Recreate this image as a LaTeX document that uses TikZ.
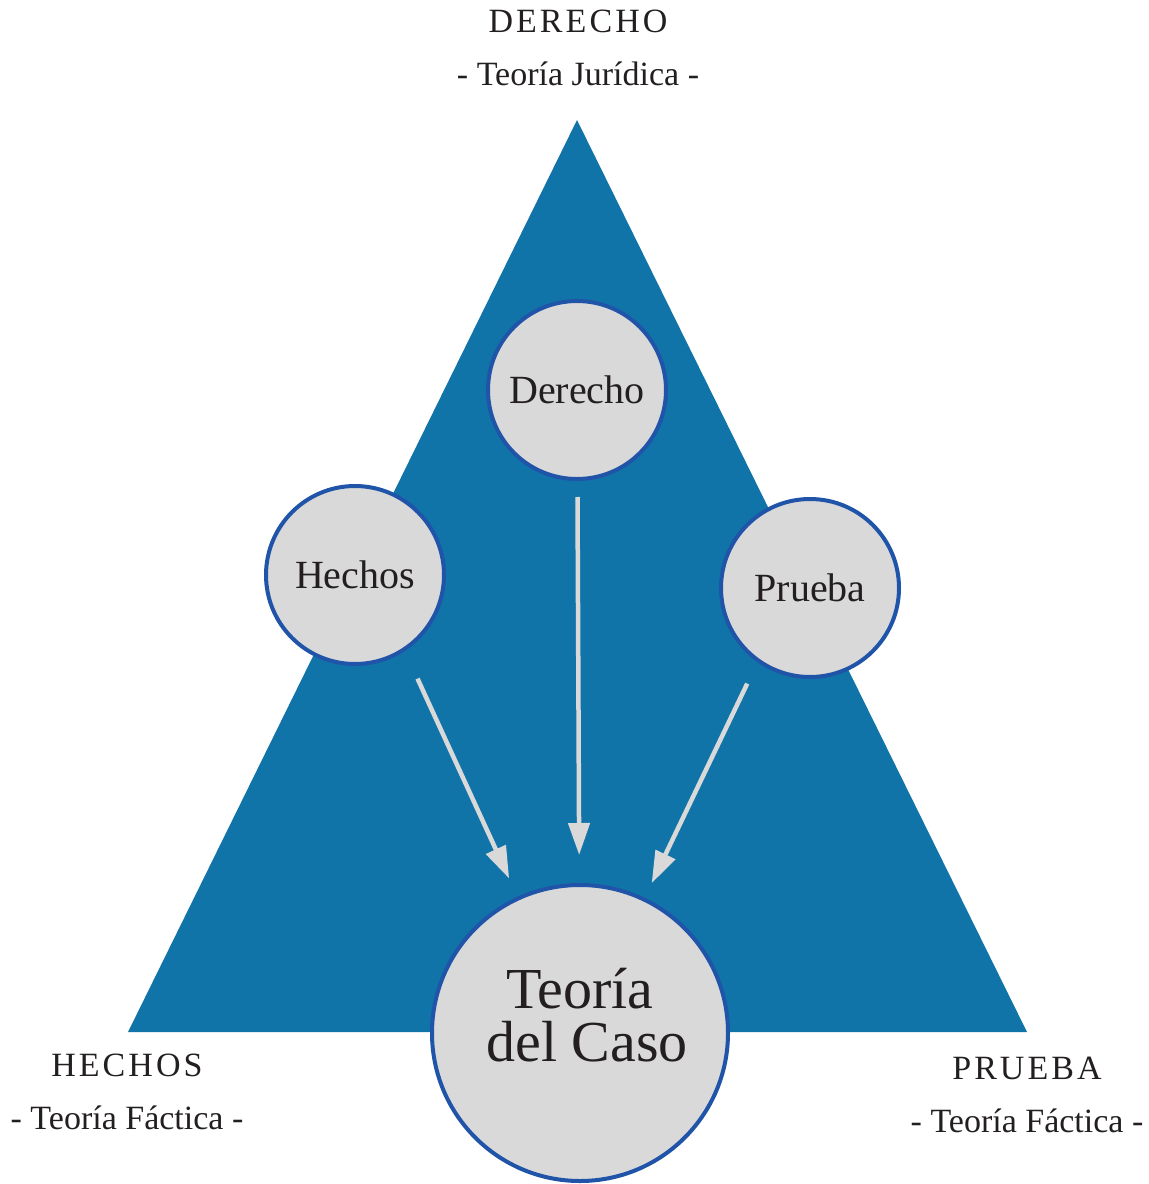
\documentclass[tikz,border=0pt]{standalone}
\usepackage{fontspec}
\setmainfont{Liberation Serif}
\usetikzlibrary{arrows.meta}
\definecolor{triblue}{RGB}{17,116,168}
\definecolor{ringblue}{RGB}{31,84,168}
\definecolor{discgray}{RGB}{217,217,217}
\definecolor{txt}{RGB}{35,31,32}
\newcommand{\capsp}[1]{{\addfontfeature{LetterSpace=9}#1}}
\begin{document}
\begin{tikzpicture}[x=1pt,y=-1pt,
  disc/.style={circle,draw=ringblue,line width=4pt,fill=discgray,inner sep=0pt,text=txt},
  small/.style={disc,minimum size=178pt,font=\fontsize{40}{44}\selectfont},
  big/.style={disc,minimum size=296pt,align=center,font=\fontsize{58}{53}\selectfont},
  lbl/.style={text=txt,align=center,inner sep=0pt,font=\fontsize{34}{53}\selectfont},
  arr/.style={draw=discgray,line width=4.5pt,-{Triangle[length=32pt,width=21pt]}}]
\useasboundingbox (0,0) rectangle (1149,1184);
\fill[triblue] (577,120) -- (1027,1032) -- (128,1032) -- cycle;
\node[lbl] (tl) at (578,48) {\capsp{DERECHO}\\- Teoría Jurídica -};
\node[lbl] (bl) at (127,1092) {\capsp{HECHOS}\\- Teoría Fáctica -};
\node[lbl] (br) at (1027,1095) {\capsp{PRUEBA}\\- Teoría Fáctica -};
\node[small] (derecho) at (577,390) {Derecho};
\node[small] (hechos) at (355,575) {Hechos};
\node[small] (prueba) at (810,588) {Prueba};
\node[big] (caso) at (580,1033) {Teoría\\\ del Caso\rule[-36pt]{0pt}{0pt}};
\draw[arr,shorten <=114pt,shorten >=20pt] ([xshift=15pt]hechos.center) -- (caso);
\draw[arr,shorten <=16pt,shorten >=28pt] (derecho) -- (caso);
\draw[arr,shorten <=106pt,shorten >=16pt] ([xshift=-17pt]prueba.center) -- (caso);
\end{tikzpicture}
\end{document}
